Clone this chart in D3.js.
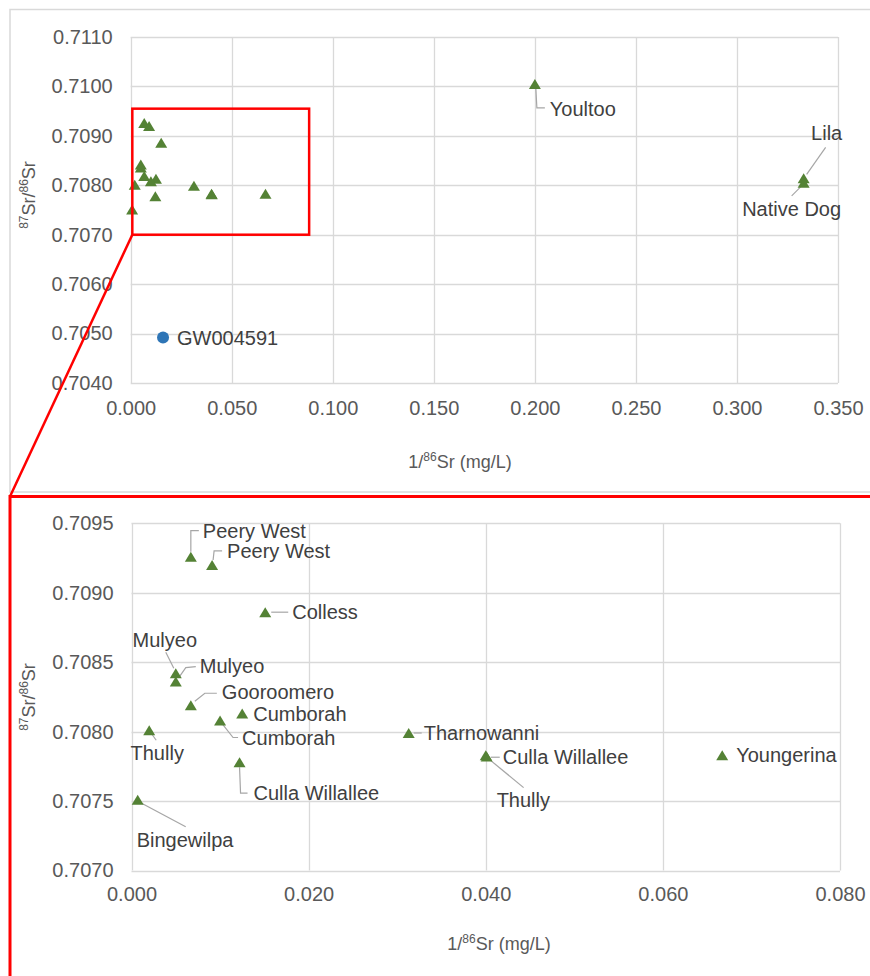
<!DOCTYPE html>
<html>
<head>
<meta charset="utf-8">
<script src="https://cdn.jsdelivr.net/npm/d3@7"></script>
<style>
  body { margin: 0; background: #fff; }
  svg text { font-family: "Liberation Sans", Arial, sans-serif; }
</style>
</head>
<body>
<svg id="chart" width="870" height="976"></svg>
<script>
// Surface-water sites: 1/86Sr (mg/L) against 87Sr/86Sr
const sites = ["Peery West", "Peery West", "Colless", "Mulyeo", "Mulyeo", "Gooroomero",
  "Cumborah", "Cumborah", "Thully", "Culla Willallee", "Bingewilpa", "Tharnowanni",
  "Culla Willallee", "Thully", "Youngerina", "Youltoo", "Lila", "Native Dog"];
const invSr86 = [0.0067, 0.0091, 0.0151, 0.0050, 0.0050, 0.0067,
  0.0125, 0.0100, 0.0020, 0.0122, 0.0007, 0.0313,
  0.0400, 0.0401, 0.0667, 0.2000, 0.3330, 0.3330];
const srRatio = [0.70926, 0.70920, 0.70886, 0.70842, 0.70836, 0.70819,
  0.70813, 0.70808, 0.70801, 0.70778, 0.70751, 0.70799,
  0.70783, 0.70782, 0.70783, 0.71005, 0.70814, 0.70805];

// Groundwater bore
const boreSites = ["GW004591"];
const boreInvSr86 = [0.016];
const boreSrRatio = [0.70492];

// Axis ticks
const xTicksFull = [0, 0.05, 0.10, 0.15, 0.20, 0.25, 0.30, 0.35];
const yTicksFull = [0.7040, 0.7050, 0.7060, 0.7070, 0.7080, 0.7090, 0.7100, 0.7110];
const xTicksZoom = [0, 0.02, 0.04, 0.06, 0.08];
const yTicksZoom = [0.7070, 0.7075, 0.7080, 0.7085, 0.7090, 0.7095];

// Enlarged window outlined on the full chart
const zoomX = [0.0008, 0.0883];
const zoomY = [0.7070, 0.70955];

const svg = d3.select("#chart");
const GRID = "#d9d9d9", TICK = "#595959", LABEL = "#404040", LEADER = "#a6a6a6";
const GREEN = "#548235", BLUE = "#2e75b6", RED = "#ff0000";
const tri = "M0,-5L6,5L-6,5Z";

// Chart frames
svg.append("rect").attr("x", 10).attr("y", 9.5).attr("width", 900).attr("height", 482.5)
  .attr("fill", "none").attr("stroke", GRID).attr("stroke-width", 1.5);

const points = sites.map((s, i) => ({ name: s, x: invSr86[i], y: srRatio[i], i }));
const bores = boreSites.map((s, i) => ({ name: s, x: boreInvSr86[i], y: boreSrRatio[i] }));

// Label placement (offsets from marker, px) and leader polylines
const fullLabels = {
  15: { dx: 15, dy: 25, anchor: "start", lead: [[1, 5], [2, 24], [10, 24]] },
  16: { dx: 23, dy: -45, anchor: "middle", lead: [[22, -31], [3, -4]] },
  17: { dx: -12, dy: 26, anchor: "middle", lead: [[-1, 2], [-12, 13]] }
};
const zoomLabels = {
  0: { dx: 12, dy: -26, anchor: "start", lead: [[0, -5], [0, -26], [8, -26]] },
  1: { dx: 15, dy: -14, anchor: "start", lead: [[1, -5], [2, -14], [10, -14]] },
  2: { dx: 27, dy: 0, anchor: "start", lead: [[6, 0], [23, 0]] },
  3: { dx: -11, dy: -33, anchor: "middle", lead: [[-10, -21], [-2, -5]] },
  4: { dx: 24, dy: -16, anchor: "start", lead: [[3, -4], [10, -14], [20, -15]] },
  5: { dx: 31, dy: -13, anchor: "start", lead: [[4, -4], [14, -12], [26, -12]] },
  6: { dx: 11, dy: 0, anchor: "start" },
  7: { dx: 22, dy: 17, anchor: "start", lead: [[2, 3], [13, 17], [18, 17]] },
  8: { dx: 8, dy: 23, anchor: "middle", lead: [[2, 3], [7, 10]] },
  9: { dx: 14, dy: 31, anchor: "start", lead: [[0, 5], [1, 31], [8, 31]] },
  10: { dx: -1, dy: 40, anchor: "start", lead: [[3, 3], [48, 27]] },
  11: { dx: 15, dy: 0, anchor: "start", lead: [[5, 0], [13, 0]] },
  12: { dx: 17, dy: 2, anchor: "start", lead: [[5, 2], [14, 2]] },
  13: { dx: 10, dy: 43, anchor: "start", lead: [[3, 3], [37, 31]] },
  14: { dx: 14, dy: 0, anchor: "start" }
};

function drawPanel(cfg) {
  const g = svg.append("g");
  const x = d3.scaleLinear().domain(cfg.xDomain).range(cfg.xRange);
  const y = d3.scaleLinear().domain(cfg.yDomain).range(cfg.yRange);

  // grid
  g.append("g").selectAll("line").data(cfg.yTicks).join("line")
    .attr("x1", cfg.xRange[0]).attr("x2", cfg.xRange[1])
    .attr("y1", d => Math.round(y(d)) + 0.5).attr("y2", d => Math.round(y(d)) + 0.5)
    .attr("stroke", GRID).attr("stroke-width", 1.3);
  g.append("g").selectAll("line").data(cfg.xTicks).join("line")
    .attr("y1", cfg.yRange[0]).attr("y2", cfg.yRange[1])
    .attr("x1", d => Math.round(x(d)) + 0.5).attr("x2", d => Math.round(x(d)) + 0.5)
    .attr("stroke", GRID).attr("stroke-width", 1.3);

  // axes (labels only)
  const ax = g.append("g").attr("transform", `translate(0,${cfg.yRange[0]})`)
    .call(d3.axisBottom(x).tickValues(cfg.xTicks).tickFormat(d3.format(".3f")).tickSize(0).tickPadding(cfg.xPad));
  const ay = g.append("g").attr("transform", `translate(${cfg.xRange[0]},0)`)
    .call(d3.axisLeft(y).tickValues(cfg.yTicks).tickFormat(d3.format(".4f")).tickSize(0).tickPadding(18));
  [ax, ay].forEach(a => {
    a.select(".domain").remove();
    a.selectAll("text").attr("fill", TICK).style("font-size", "20px")
      .style("font-family", '"Liberation Sans", Arial, sans-serif');
  });

  // axis titles
  const xt = g.append("text").attr("x", cfg.xTitle[0]).attr("y", cfg.xTitle[1])
    .attr("text-anchor", "middle").attr("fill", TICK).style("font-size", "18px");
  xt.append("tspan").text("1/");
  xt.append("tspan").text("86").style("font-size", "12px").attr("dy", -7);
  xt.append("tspan").text("Sr (mg/L)").attr("dy", 7);

  const yt = g.append("text")
    .attr("transform", `translate(${cfg.yTitle[0]},${cfg.yTitle[1]}) rotate(-90)`)
    .attr("text-anchor", "middle").attr("fill", TICK).style("font-size", "18px");
  yt.append("tspan").text("87").style("font-size", "12px").attr("dy", -7);
  yt.append("tspan").text("Sr/").attr("dy", 7);
  yt.append("tspan").text("86").style("font-size", "12px").attr("dy", -7);
  yt.append("tspan").text("Sr").attr("dy", 7);

  const inside = p => p.x >= cfg.xDomain[0] && p.x <= cfg.xDomain[1] && p.y >= cfg.yDomain[0] && p.y <= cfg.yDomain[1];

  // leader lines
  const line = d3.line();
  const pts = points.filter(inside);
  g.append("g").selectAll("path").data(pts.filter(p => cfg.labels[p.i] && cfg.labels[p.i].lead)).join("path")
    .attr("d", p => line(cfg.labels[p.i].lead.map(([a, b]) => [x(p.x) + a, y(p.y) + b])))
    .attr("fill", "none").attr("stroke", LEADER).attr("stroke-width", 1.2);

  // markers
  g.append("g").selectAll("path").data(pts).join("path")
    .attr("d", tri).attr("transform", p => `translate(${x(p.x)},${y(p.y)})`)
    .attr("fill", GREEN);

  // data labels
  g.append("g").selectAll("text").data(pts.filter(p => cfg.labels[p.i])).join("text")
    .attr("x", p => x(p.x) + cfg.labels[p.i].dx)
    .attr("y", p => y(p.y) + cfg.labels[p.i].dy)
    .attr("dy", "0.35em")
    .attr("text-anchor", p => cfg.labels[p.i].anchor)
    .attr("fill", LABEL).style("font-size", "20px")
    .text(p => p.name);

  if (cfg.showBores) {
    const bs = bores.filter(inside);
    g.append("g").selectAll("circle").data(bs).join("circle")
      .attr("cx", p => x(p.x)).attr("cy", p => y(p.y)).attr("r", 6).attr("fill", BLUE);
    g.append("g").selectAll("text").data(bs).join("text")
      .attr("x", p => x(p.x) + 14).attr("y", p => y(p.y)).attr("dy", "0.35em")
      .attr("fill", LABEL).style("font-size", "20px").text(p => p.name);
  }
  return { x, y };
}

const full = drawPanel({
  xDomain: [0, 0.35], yDomain: [0.704, 0.711],
  xRange: [130.7, 838], yRange: [383, 37],
  xTicks: xTicksFull, yTicks: yTicksFull, xPad: 18,
  xTitle: [460, 468], yTitle: [35, 195],
  labels: fullLabels, showBores: true
});

// outline of the enlarged window and link to the lower chart
const bx0 = full.x(zoomX[0]), bx1 = full.x(zoomX[1]);
const by0 = full.y(zoomY[1]), by1 = full.y(zoomY[0]);
svg.append("rect").attr("x", bx0).attr("y", by0).attr("width", bx1 - bx0).attr("height", by1 - by0)
  .attr("fill", "none").attr("stroke", RED).attr("stroke-width", 2.5);
svg.append("line").attr("x1", bx0).attr("y1", by1).attr("x2", 10).attr("y2", 496.5)
  .attr("stroke", RED).attr("stroke-width", 2.5);
svg.append("rect").attr("x", 10).attr("y", 496.5).attr("width", 900).attr("height", 520)
  .attr("fill", "none").attr("stroke", RED).attr("stroke-width", 3);

drawPanel({
  xDomain: [0, 0.08], yDomain: [0.707, 0.7095],
  xRange: [131.5, 840], yRange: [870.5, 523.3],
  xTicks: xTicksZoom, yTicks: yTicksZoom, xPad: 16,
  xTitle: [499, 950], yTitle: [35, 697],
  labels: zoomLabels, showBores: false
});
</script>
</body>
</html>
